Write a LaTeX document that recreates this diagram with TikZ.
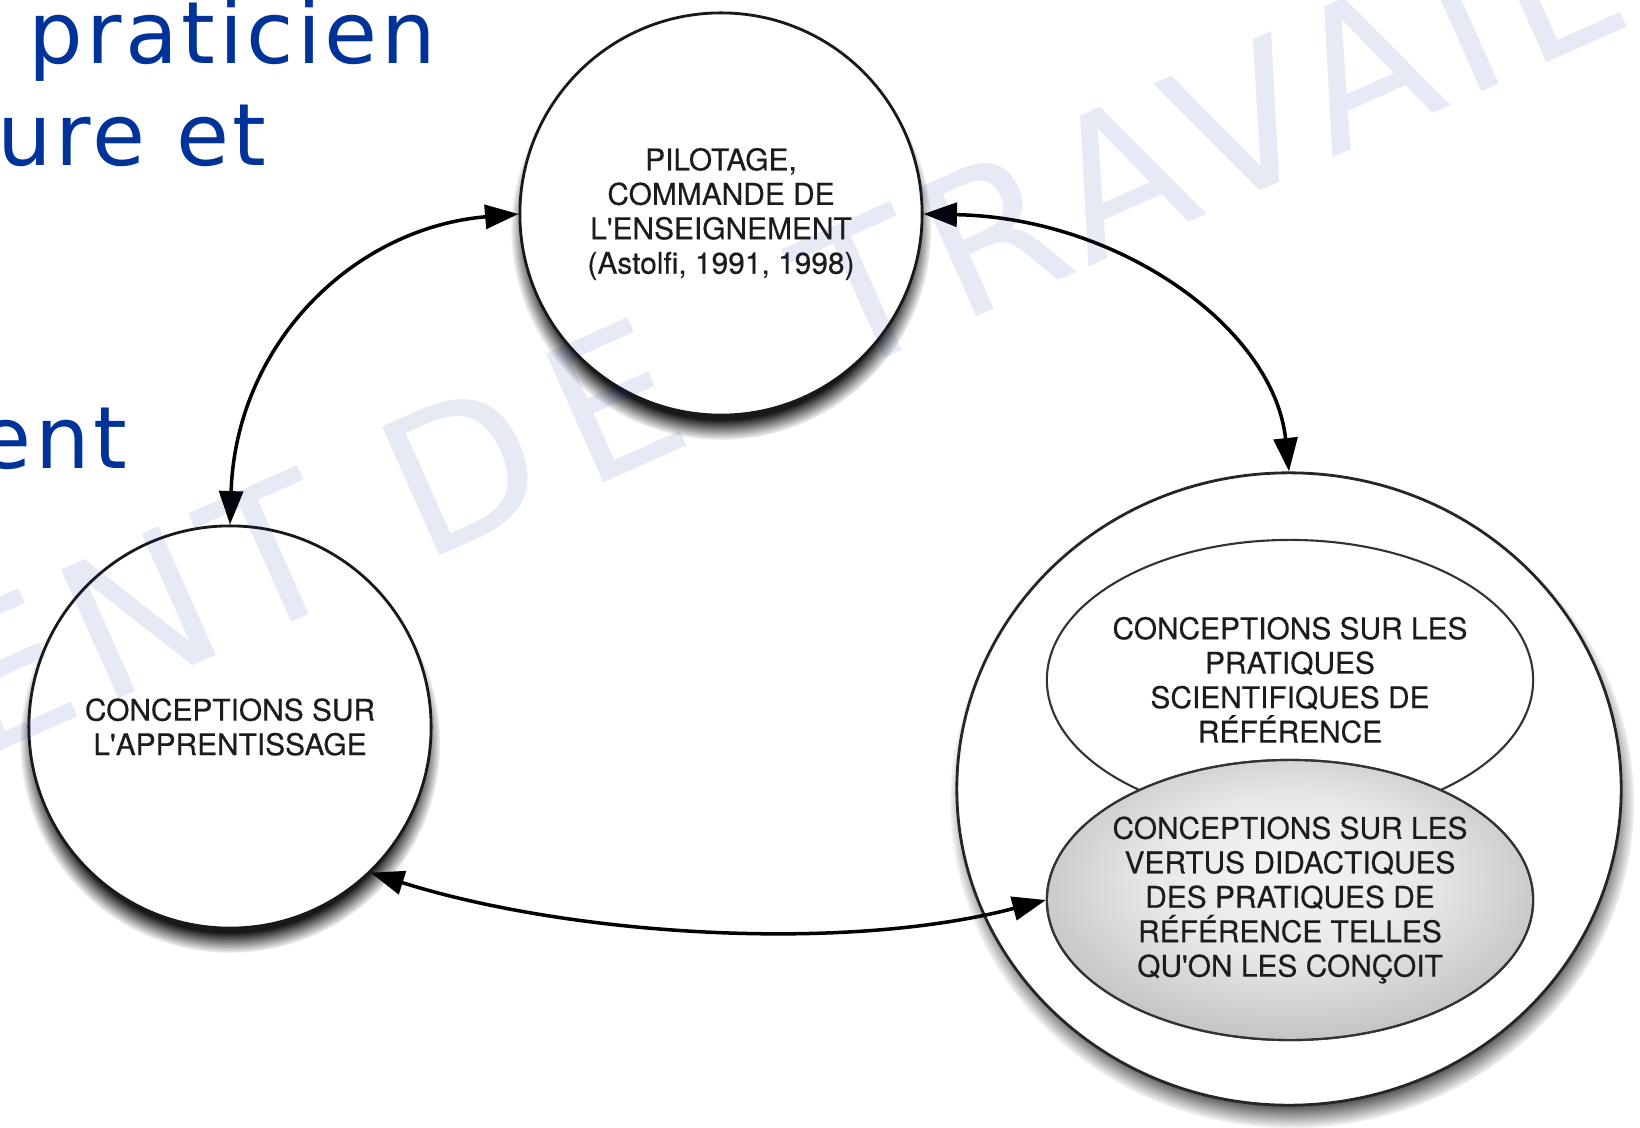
\documentclass[tikz,border=0pt]{standalone}
\usepackage{fontspec}
\setmainfont{TeX Gyre Heros}[Ligatures=TeXOff,FakeBold=0.4]
\newfontfamily\bluefont[LetterSpace=4]{DejaVu Sans}
\newfontfamily\wmfont[LetterSpace=7]{DejaVu Sans}
\usetikzlibrary{shapes.geometric,shadows,arrows.meta,fadings}
\definecolor{slideblue}{RGB}{0,51,153}
\definecolor{inkgray}{RGB}{28,28,28}
\pgfdeclareradialshading{ellshade}{\pgfpoint{0bp}{6bp}}{color(0bp)=(black!4); color(14bp)=(black!9); color(50bp)=(black!46)}
\begin{document}
\begin{tikzpicture}[x=0.01cm,y=-0.01cm,
  lbl/.style={font=\fontsize{8.5}{9.8}\selectfont, text=inkgray, align=center, inner sep=0pt},
  bluetxt/.style={font=\bluefont\fontsize{24.5}{24.5}\selectfont, text=slideblue, inner sep=0pt, anchor=base west},
  wmark/.style={font=\wmfont\fontsize{55}{55}\selectfont, text=slideblue, text opacity=0.1, inner sep=0pt, anchor=base west, rotate=24},
  circ/.style={circle, draw=black!90, line width=0.8pt, fill=white, minimum size=4.02cm, inner sep=0pt,
    general shadow={shadow xshift=0pt, shadow yshift=-0.15cm, shadow scale=1.045, fill=black, opacity=0.9,
      path fading={circle with fuzzy edge 10 percent}}},
  bigell/.style={ellipse, draw=black!85, line width=0.8pt, fill=white, minimum width=6.64cm, minimum height=6.32cm, inner sep=0pt,
    general shadow={shadow xshift=0.03cm, shadow yshift=-0.13cm, shadow scale=1.03, fill=black, opacity=0.9,
      path fading={circle with fuzzy edge 10 percent}}},
  innerell/.style={ellipse, draw=black!80, line width=0.6pt, minimum width=4.86cm, minimum height=2.8cm, inner sep=0pt},
  conn/.style={line width=1pt, black, {Triangle[length=9.5pt,width=6.8pt]}-{Triangle[length=9.5pt,width=6.8pt]}}
]
\useasboundingbox (0,0) rectangle (1640,1127);
\clip (0,0) rectangle (1640,1127);
\fill[white] (0,0) rectangle (1640,1127);

% slide text in the background
\node[bluetxt] (b1) at (28,63) {praticien};
\node[bluetxt] (b2) at (-3,165) {ure et};
\node[bluetxt] (b3) at (-22,468) {ent};

% circles
\node[circ] (pil) at (721,214) {};
\node[lbl] (pilT) at (pil.center) {PILOTAGE,\\COMMANDE DE\\L'ENSEIGNEMENT\\(Astolfi, 1991, 1998)};
\node[circ] (app) at (230,727) {};
\node[lbl] (appT) at (app.center) {CONCEPTIONS SUR\\L'APPRENTISSAGE};
\node[bigell] (big) at (1289,789) {};
\node[innerell, fill=white] (sci) at (1290,680) {};
\node[lbl] (sciT) at (sci.center) {CONCEPTIONS SUR LES\\PRATIQUES\\SCIENTIFIQUES DE\\RÉFÉRENCE};
\node[innerell, shading=ellshade] (vert) at (1290,900) {};
\node[innerell, draw=black!80] (vertO) at (1290,900) {};
\node[lbl] (vertT) at (vert.center) {CONCEPTIONS SUR LES\\VERTUS DIDACTIQUES\\DES PRATIQUES DE\\RÉFÉRENCE TELLES\\QU'ON LES CONÇOIT};

% connectors
\draw[conn] (pil.west) .. controls +(-165,14) and +(6,-181) .. (app.north);
\draw[conn] (pil.east) .. controls +(198,4) and +(-15,-142) .. (big.north);
\draw[conn] (app.-46) .. controls +(200,63) and +(-202,53) .. (vert.west);

% watermark
\node[wmark] (wm) at (-23,762) {ENT D\hspace{0.3cm}E\hspace{0.8cm} TRAVAIL};
\end{tikzpicture}
\end{document}
